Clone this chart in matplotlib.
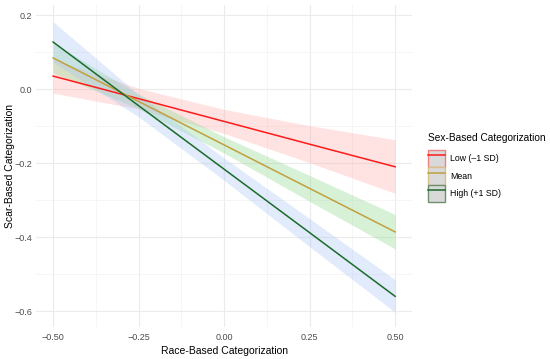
import numpy as np
import matplotlib
matplotlib.use("Agg")
import matplotlib.pyplot as plt
from matplotlib.patches import Patch
from matplotlib.lines import Line2D
from matplotlib.ticker import MultipleLocator

plt.rcParams['font.family'] = ['Liberation Sans', 'DejaVu Sans']

# valores
x = [-0.5, -0.25, 0.0, 0.25, 0.5]

low_fit = [0.035, -0.026, -0.0875, -0.149, -0.21]
low_lo = [-0.011, -0.054, -0.12, -0.199, -0.282]
low_hi = [0.081, 0.002, -0.055, -0.099, -0.137]

mean_fit = [0.084, -0.0335, -0.151, -0.2685, -0.386]
mean_lo = [0.044, -0.0535, -0.173, -0.3035, -0.432]
mean_hi = [0.124, -0.0135, -0.129, -0.2335, -0.339]

high_fit = [0.127, -0.045, -0.2165, -0.388, -0.56]
high_lo = [0.072, -0.075, -0.2465, -0.426, -0.603]
high_hi = [0.182, -0.015, -0.1865, -0.350, -0.515]

labels = ["Low (\u20131 SD)", "Mean", "High (+1 SD)"]
line_cols = ["#FF1A1A", "#C0A040", "#1B6B2A"]
fill_cols = ["#FFB0B0", "#8FD88F", "#A9C6F5"]
edge_cols = ["#F08080", "#D8C08A", "#6E8E6E"]

fig = plt.figure(figsize=(5.5, 3.59), dpi=100)
ax = fig.add_axes([0.0655, 0.089, 0.684, 0.897])

fits = [low_fit, mean_fit, high_fit]
los = [low_lo, mean_lo, high_lo]
his = [low_hi, mean_hi, high_hi]

for i in range(3):
    ax.fill_between(x, los[i], his[i], color=fill_cols[i], alpha=0.35, lw=0, zorder=2)
for i in range(3):
    ax.plot(x, fits[i], color=line_cols[i], lw=1.1, zorder=3)

ax.set_xlim(-0.55, 0.55)
ax.set_ylim(-0.643, 0.227)
ax.xaxis.set_minor_locator(MultipleLocator(0.125))
ax.yaxis.set_minor_locator(MultipleLocator(0.1))
ax.set_xticks([-0.5, -0.25, 0, 0.25, 0.5])
ax.set_xticklabels(["\u22120.50", "\u22120.25", "0.00", "0.25", "0.50"])
ax.set_yticks([-0.6, -0.4, -0.2, 0.0, 0.2])
ax.set_yticklabels(["\u22120.6", "\u22120.4", "\u22120.2", "0.0", "0.2"])
ax.grid(which="major", color="#EBEBEB", lw=0.8, zorder=0)
ax.grid(which="minor", color="#F4F4F4", lw=0.6, zorder=0)
ax.set_axisbelow(True)
for s in ax.spines.values():
    s.set_visible(False)
ax.tick_params(which="both", length=0, labelsize=6.5, labelcolor="#4D4D4D", pad=2.5)
ax.tick_params(axis="x", pad=4)
ax.set_xlabel("Race-Based Categorization", fontsize=7.5, labelpad=3)
ax.set_ylabel("Scar-Based Categorization", fontsize=7.5)
ax.yaxis.set_label_coords(-0.057, 0.5)

handles = []
for i in range(3):
    handles.append((Patch(facecolor="#D9D9D9", edgecolor=edge_cols[i], lw=1.0),
                    Line2D([], [], color=line_cols[i], lw=1.1)))
leg = fig.legend(handles, labels, title="Sex-Based Categorization",
                 loc="upper left", bbox_to_anchor=(0.772, 0.64),
                 frameon=False, fontsize=6.3, title_fontsize=7.3,
                 handlelength=1.9, handleheight=2.7, handletextpad=0.6,
                 labelspacing=0.0, borderaxespad=0)
leg._legend_box.align = "left"
leg._legend_box.sep = 5

fig.savefig("out.png", dpi=100)
